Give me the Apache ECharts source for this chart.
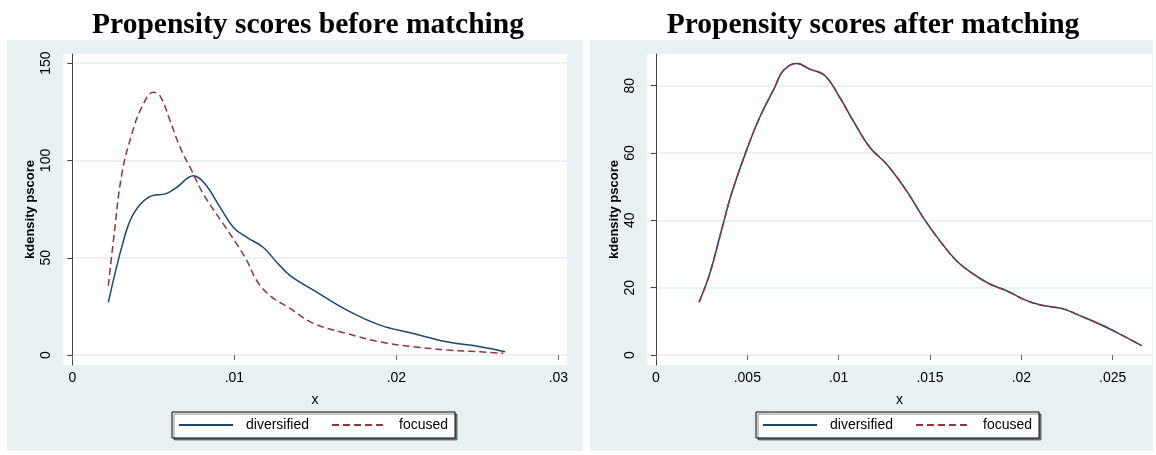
<!DOCTYPE html>
<html>
<head>
<meta charset="utf-8">
<script src="https://cdn.jsdelivr.net/npm/echarts@6/dist/echarts.min.js"></script>
<style>
  html, body { margin: 0; padding: 0; background: #fff; }
  #main { width: 1156px; height: 455px; }
</style>
</head>
<body>
<div id="main"></div>
<script>
// kdensity of pscore: [x, density]
const beforeDiversified = [
  [0.00222, 27.1], [0.00315, 58.7], [0.00377, 72.5], [0.00469, 81.0], [0.00583, 83.1],
  [0.00644, 86.2], [0.00747, 92.1], [0.00819, 87.9], [0.00912, 75.9], [0.00994, 65.6],
  [0.01077, 60.5], [0.01179, 55.3], [0.01262, 47.6], [0.01344, 40.8], [0.01488, 33.4],
  [0.01694, 23.1], [0.01899, 15.4], [0.02105, 11.1], [0.02311, 6.8], [0.02517, 4.3],
  [0.02671, 1.7]
];
const beforeFocused = [
  [0.00222, 35.6], [0.00253, 58.7], [0.00305, 93.0], [0.00367, 113.6], [0.00428, 127.3],
  [0.00500, 135.0], [0.00541, 133.2], [0.00603, 120.4], [0.00665, 106.7], [0.00737, 94.7],
  [0.00809, 82.7], [0.00932, 67.3], [0.01015, 57.0], [0.01077, 48.5], [0.01138, 38.2],
  [0.01220, 30.5], [0.01333, 24.5], [0.01488, 16.3], [0.01694, 11.1], [0.01899, 6.8],
  [0.02105, 4.3], [0.02311, 2.6], [0.02517, 1.7], [0.02660, 0.9]
];
const afterDiversified = [
  [0.00236, 15.7], [0.00294, 24.1], [0.00358, 36.9], [0.00413, 47.8], [0.00495, 60.7],
  [0.00568, 70.6], [0.00650, 79.5], [0.00696, 84.4], [0.00769, 86.6], [0.00842, 84.9],
  [0.00924, 83.0], [0.01006, 76.5], [0.01079, 69.6], [0.01170, 61.7], [0.01262, 56.7],
  [0.01371, 48.8], [0.01462, 40.9], [0.01554, 33.9], [0.01645, 28.0], [0.01736, 24.1],
  [0.01827, 21.1], [0.01919, 19.1], [0.02010, 16.6], [0.02101, 14.9], [0.02229, 13.7],
  [0.02320, 11.7], [0.02448, 8.7], [0.02558, 5.7], [0.02658, 2.8]
];
const afterFocused = [
  [0.00236, 15.7], [0.00294, 24.1], [0.00358, 36.9], [0.00413, 47.8], [0.00495, 60.7],
  [0.00568, 70.6], [0.00650, 79.5], [0.00696, 84.4], [0.00769, 86.7], [0.00842, 84.9],
  [0.00924, 83.0], [0.01006, 76.5], [0.01079, 69.6], [0.01170, 61.7], [0.01262, 56.7],
  [0.01371, 48.8], [0.01462, 40.9], [0.01554, 33.9], [0.01645, 28.0], [0.01736, 24.1],
  [0.01827, 21.1], [0.01919, 19.1], [0.02010, 16.6], [0.02101, 14.9], [0.02229, 13.7],
  [0.02320, 11.7], [0.02448, 8.7], [0.02558, 5.7], [0.02658, 2.8]
];

const beforeXTicks = [0, 0.01, 0.02, 0.03];
const beforeYTicks = [0, 50, 100, 150];
const afterXTicks = [0, 0.005, 0.01, 0.015, 0.02, 0.025];
const afterYTicks = [0, 20, 40, 60, 80];
const seriesNames = ['diversified', 'focused'];
const titles = ['Propensity scores before matching', 'Propensity scores after matching'];

const BLUE = '#1a476f';
const RED = '#90353b';
const PANEL = '#e9f0f2';

// stata style: ".01" rather than "0.01"
function fmtX(v) {
  if (Math.abs(v) < 1e-12) return '0';
  return (+v.toFixed(4)).toString().replace(/^0\./, '.');
}

function xAxis(idx, min, max, ticks) {
  return {
    type: 'value', gridIndex: idx, min: min, max: max,
    name: 'x', nameLocation: 'middle', nameGap: 28,
    nameTextStyle: { fontFamily: 'Liberation Sans', fontSize: 14, color: '#000' },
    axisLine: { show: false },
    axisTick: { show: true, length: 5, customValues: ticks, lineStyle: { color: '#666' } },
    axisLabel: { customValues: ticks, formatter: fmtX, margin: 6,
      fontFamily: 'Liberation Sans', fontSize: 14, color: '#000' },
    splitLine: { show: false }
  };
}

function yAxis(idx, min, max, ticks) {
  return {
    type: 'value', gridIndex: idx, min: min, max: max,
    name: 'kdensity pscore', nameLocation: 'middle', nameGap: 26, nameRotate: 90,
    nameTextStyle: { fontFamily: 'Liberation Sans', fontSize: 13, fontWeight: 'bold', color: '#000' },
    axisLine: { show: true, lineStyle: { color: '#444', width: 1 } },
    axisTick: { show: true, length: 5, customValues: ticks, lineStyle: { color: '#444' } },
    axisLabel: { customValues: ticks, rotate: 90, margin: 10,
      fontFamily: 'Liberation Sans', fontSize: 14, color: '#000' },
    splitLine: { show: true, lineStyle: { color: '#e4ecef', width: 1.5 } }
  };
}

function line(name, idx, data, color, dashed) {
  return {
    name: name, type: 'line', xAxisIndex: idx, yAxisIndex: idx,
    data: data, smooth: 0.4, symbol: 'none',
    lineStyle: { color: color, width: 1.5, type: dashed ? [7, 4] : 'solid' },
    itemStyle: { color: color }
  };
}

function legend(left) {
  return {
    data: seriesNames, left: left, top: 412,
    orient: 'horizontal', itemWidth: 54, itemHeight: 14, itemGap: 22,
    padding: [6, 7, 6, 6],
    backgroundColor: '#fff', borderColor: '#000', borderWidth: 1,
    shadowColor: 'rgba(0,0,0,0.45)', shadowOffsetX: 2, shadowOffsetY: 2, shadowBlur: 0,
    itemStyle: { color: 'rgba(0,0,0,0)', borderWidth: 0, opacity: 0 },
    textStyle: { fontFamily: 'Liberation Sans', fontSize: 14, color: '#000', padding: [0, 0, 0, 8] }
  };
}

const titleStyle = { fontFamily: 'Liberation Serif', fontWeight: 'bold', fontSize: 29.5, color: '#000' };

const chart = echarts.init(document.getElementById('main'));
chart.setOption({
  animation: false,
  backgroundColor: '#fff',
  title: [
    { text: titles[0], left: 303, top: 5, textAlign: 'center', textStyle: titleStyle },
    { text: titles[1], left: 868, top: 5, textAlign: 'center', textStyle: titleStyle }
  ],
  graphic: [
    { type: 'rect', z: -10, shape: { x: 7, y: 40, width: 576, height: 411 }, style: { fill: PANEL } },
    { type: 'rect', z: -10, shape: { x: 590, y: 40, width: 563, height: 411 }, style: { fill: PANEL } }
  ],
  grid: [
    { left: 63, top: 54, width: 504, height: 311, show: true, backgroundColor: '#fff', borderWidth: 0 },
    { left: 647, top: 54, width: 505, height: 311, show: true, backgroundColor: '#fff', borderWidth: 0 }
  ],
  xAxis: [
    xAxis(0, -0.00058, 0.03053, beforeXTicks),
    xAxis(1, -0.00049, 0.02715, afterXTicks)
  ],
  yAxis: [
    yAxis(0, -5.1, 154.7, beforeYTicks),
    yAxis(1, -2.97, 89.4, afterYTicks)
  ],
  legend: [legend(172), legend(756)],
  series: [
    line(seriesNames[0], 0, beforeDiversified, BLUE, false),
    line(seriesNames[1], 0, beforeFocused, RED, true),
    line(seriesNames[0], 1, afterDiversified, BLUE, false),
    line(seriesNames[1], 1, afterFocused, RED, true)
  ]
});
window.addEventListener('resize', chart.resize);
</script>
</body>
</html>
